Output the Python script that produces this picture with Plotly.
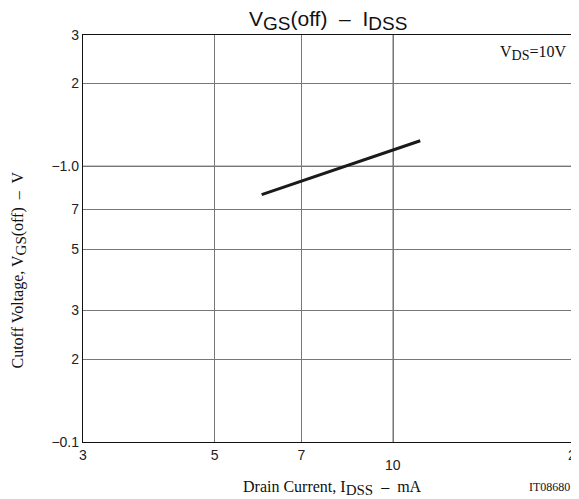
import plotly.graph_objects as go
import math

# Data
idss_ma = [6.0, 11.1]
vgs_off_v = [0.79, 1.24]

x_tickvals = [3, 5, 7, 10, 20]
x_ticktext = ["3", "5", "7", "", "2"]
y_tickvals = [0.1, 0.2, 0.3, 0.5, 0.7, 1.0, 2, 3]
y_ticktext = ["\u22120.1", "2", "3", "5", "7", "\u22121.0", "2", "3"]
x_dark_grid = [10]
y_dark_grid = [1.0]

fig = go.Figure()
fig.add_trace(go.Scatter(
    x=idss_ma, y=vgs_off_v, mode="lines",
    line=dict(color="#1a1a1a", width=3), showlegend=False, hoverinfo="skip"))

shapes = []
for xv in x_dark_grid:
    shapes.append(dict(type="line", xref="x", yref="paper", x0=xv, x1=xv, y0=0, y1=1,
                       line=dict(color="#222", width=1.3), layer="below"))
for yv in y_dark_grid:
    shapes.append(dict(type="line", xref="paper", yref="y", x0=0, x1=1, y0=yv, y1=yv,
                       line=dict(color="#222", width=1.3), layer="below"))

tick_font = dict(family="Liberation Sans, Arial, sans-serif", size=14, color="#222")
serif = "Liberation Serif, Times New Roman, serif"

def sub(t, size):
    return "<sub><span style='font-size:%dpx'>%s</span></sub>" % (size, t)

fig.update_layout(
    width=571, height=491,
    margin=dict(l=75, r=7, t=27, b=57, autoexpand=False),
    paper_bgcolor="white", plot_bgcolor="white",
    shapes=shapes,
    xaxis=dict(type="log", range=[math.log10(3) - 1e-6, math.log10(20) + 1e-6],
               tickvals=x_tickvals, ticktext=x_ticktext, tickfont=tick_font,
               showgrid=True, gridcolor="#777", gridwidth=1,
               showline=True, linecolor="#111", linewidth=1.3, mirror=True,
               ticks="", ticklen=0, zeroline=False, automargin=False),
    yaxis=dict(type="log", range=[-1 - 1e-6, math.log10(3) + 1e-6],
               tickvals=y_tickvals, ticktext=y_ticktext, tickfont=tick_font,
               showgrid=True, gridcolor="#777", gridwidth=1,
               showline=True, linecolor="#111", linewidth=1.3, mirror=True,
               ticks="", ticklen=0, zeroline=False, automargin=False),
    annotations=[
        dict(text="V" + sub("GS", 19) + "(off)  \u2013  I" + sub("DSS", 19),
             x=0.5, y=1, xref="paper", yref="paper", xanchor="center", yanchor="bottom",
             yshift=-1, showarrow=False,
             font=dict(family="Liberation Sans, Arial, sans-serif", size=21, color="#111")),
        dict(text="10", x=math.log10(10), y=0, xref="x", yref="paper",
             xanchor="center", yanchor="top", yshift=-13, showarrow=False, font=tick_font),
        dict(text="V" + sub("DS", 14) + "=10V", x=1, y=1, xref="paper", yref="paper",
             xanchor="right", yanchor="top", xshift=-4, yshift=-6, showarrow=False,
             font=dict(family=serif, size=16, color="#111")),
        dict(text="IT08680", x=1, y=0, xref="paper", yref="paper",
             xanchor="right", yanchor="middle", xshift=0, yshift=-45, showarrow=False,
             font=dict(family=serif, size=12, color="#111")),
        dict(text="Drain Current, I" + sub("DSS", 15) + "  \u2013  mA",
             x=0.5, y=0, xref="paper", yref="paper", xanchor="center", yanchor="middle",
             xshift=5, yshift=-46, showarrow=False,
             font=dict(family=serif, size=16, color="#111")),
        dict(text="Cutoff Voltage, V" + sub("GS", 15) + "(off)  \u2013  V",
             x=0, y=0.5, xref="paper", yref="paper", xanchor="center", yanchor="middle",
             xshift=-65, yshift=-32, textangle=-90, showarrow=False,
             font=dict(family=serif, size=16, color="#111")),
    ],
)

fig.write_html("out.html")
